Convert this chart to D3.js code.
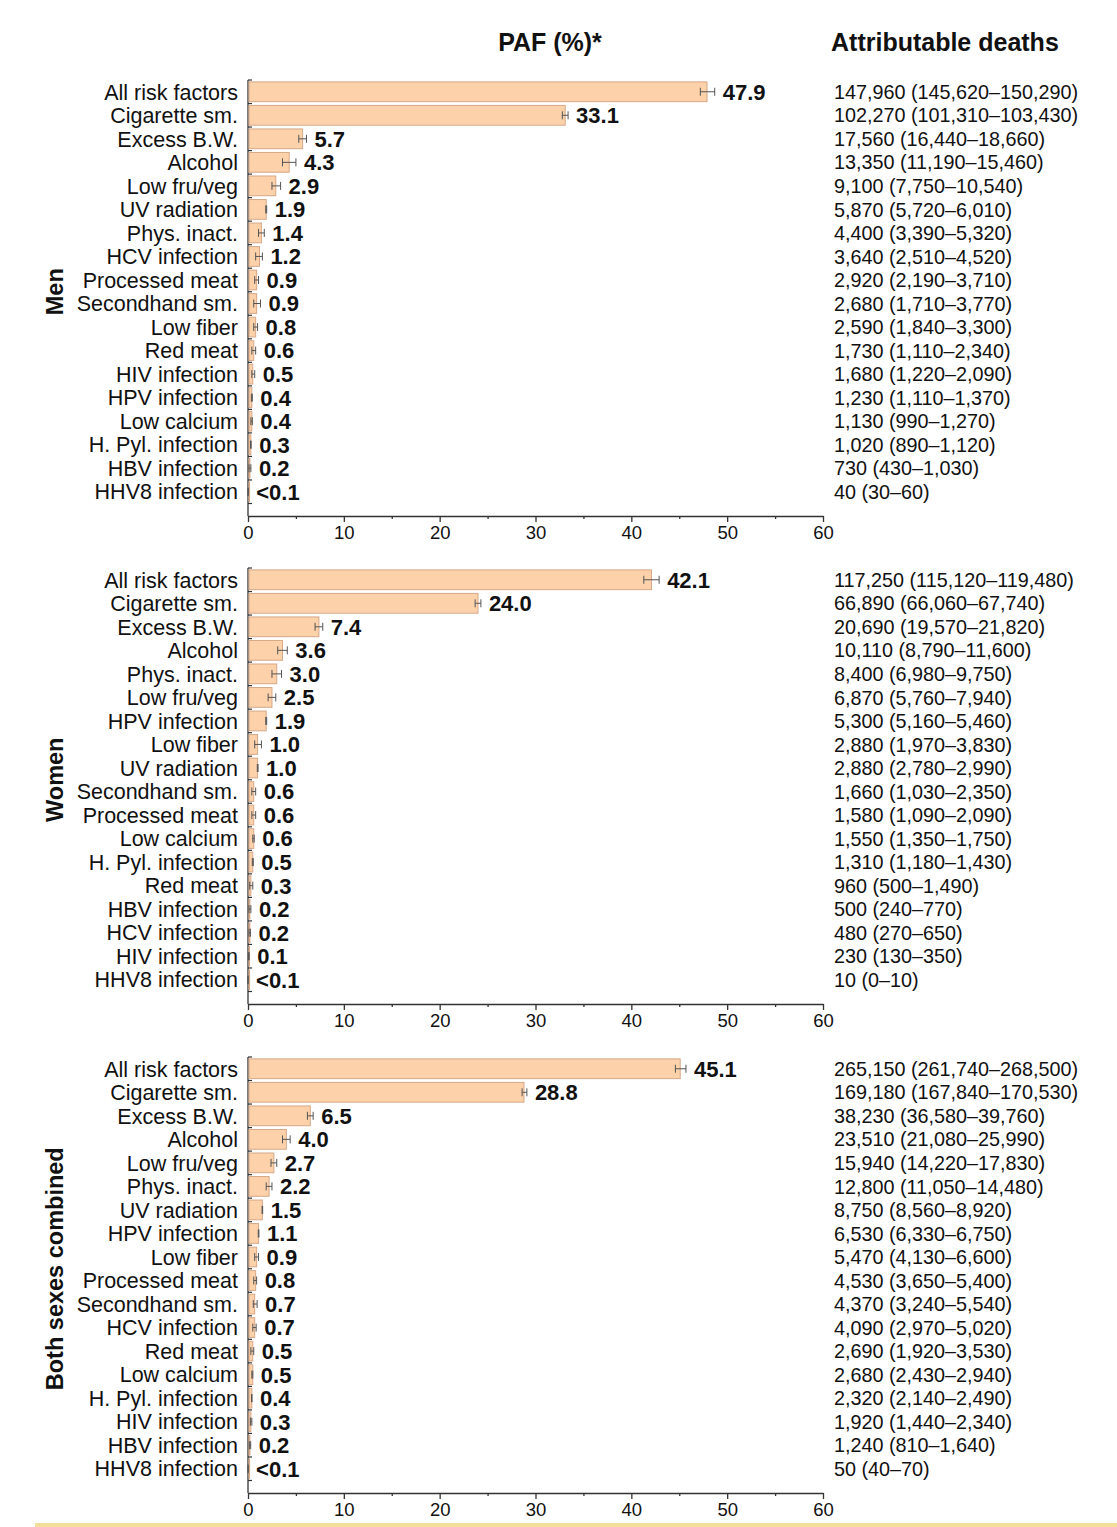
<!DOCTYPE html>
<meta charset="utf-8">
<body style="margin:0;background:#fff">
<script src="https://d3js.org/d3.v7.min.js" charset="utf-8"></script>
<style type="text/css">
  text { font-family: Arial, "Liberation Sans", sans-serif; fill: #111; }
  .cat { font-size: 21.5px; }
  .val { font-size: 22px; font-weight: bold; }
  .deaths { font-size: 19.8px; }
  .head { font-size: 25px; font-weight: bold; }
  .side { font-size: 23.5px; font-weight: bold; }
  .axis text { font-size: 18.5px; font-family: Arial, "Liberation Sans", sans-serif; fill: #111; }
  .axis path, .axis line { stroke: #333; stroke-width: 1.3px; }
</style>
<script>
var width = 1117;
var height = 1527;

// ---- data ----
var menFactors = ["All risk factors", "Cigarette sm.", "Excess B.W.", "Alcohol", "Low fru/veg", "UV radiation",
  "Phys. inact.", "HCV infection", "Processed meat", "Secondhand sm.", "Low fiber", "Red meat",
  "HIV infection", "HPV infection", "Low calcium", "H. Pyl. infection", "HBV infection", "HHV8 infection"];
var menPaf = [47.9, 33.1, 5.7, 4.3, 2.9, 1.9, 1.4, 1.2, 0.9, 0.9, 0.8, 0.6, 0.5, 0.4, 0.4, 0.3, 0.2, 0.01];
var menLo  = [47.2, 32.8, 5.3, 3.6, 2.5, 1.85, 1.1, 0.8, 0.7, 0.6, 0.6, 0.4, 0.4, 0.35, 0.3, 0.26, 0.1, 0.01];
var menHi  = [48.7, 33.4, 6.1, 5.0, 3.4, 1.95, 1.7, 1.5, 1.1, 1.3, 1.0, 0.8, 0.7, 0.45, 0.45, 0.33, 0.3, 0.02];
var menDeaths = ["147,960 (145,620–150,290)", "102,270 (101,310–103,430)", "17,560 (16,440–18,660)",
  "13,350 (11,190–15,460)", "9,100 (7,750–10,540)", "5,870 (5,720–6,010)", "4,400 (3,390–5,320)",
  "3,640 (2,510–4,520)", "2,920 (2,190–3,710)", "2,680 (1,710–3,770)", "2,590 (1,840–3,300)",
  "1,730 (1,110–2,340)", "1,680 (1,220–2,090)", "1,230 (1,110–1,370)", "1,130 (990–1,270)",
  "1,020 (890–1,120)", "730 (430–1,030)", "40 (30–60)"];

var womenFactors = ["All risk factors", "Cigarette sm.", "Excess B.W.", "Alcohol", "Phys. inact.", "Low fru/veg",
  "HPV infection", "Low fiber", "UV radiation", "Secondhand sm.", "Processed meat", "Low calcium",
  "H. Pyl. infection", "Red meat", "HBV infection", "HCV infection", "HIV infection", "HHV8 infection"];
var womenPaf = [42.1, 24.0, 7.4, 3.6, 3.0, 2.5, 1.9, 1.0, 1.0, 0.6, 0.6, 0.6, 0.5, 0.3, 0.2, 0.2, 0.1, 0.004];
var womenLo  = [41.3, 23.7, 7.0, 3.1, 2.5, 2.1, 1.85, 0.7, 0.97, 0.4, 0.4, 0.5, 0.45, 0.18, 0.1, 0.1, 0.05, 0];
var womenHi  = [42.9, 24.3, 7.8, 4.1, 3.5, 2.9, 1.95, 1.4, 1.05, 0.8, 0.8, 0.65, 0.55, 0.5, 0.3, 0.25, 0.12, 0.004];
var womenDeaths = ["117,250 (115,120–119,480)", "66,890 (66,060–67,740)", "20,690 (19,570–21,820)",
  "10,110 (8,790–11,600)", "8,400 (6,980–9,750)", "6,870 (5,760–7,940)", "5,300 (5,160–5,460)",
  "2,880 (1,970–3,830)", "2,880 (2,780–2,990)", "1,660 (1,030–2,350)", "1,580 (1,090–2,090)",
  "1,550 (1,350–1,750)", "1,310 (1,180–1,430)", "960 (500–1,490)", "500 (240–770)",
  "480 (270–650)", "230 (130–350)", "10 (0–10)"];

var bothFactors = ["All risk factors", "Cigarette sm.", "Excess B.W.", "Alcohol", "Low fru/veg", "Phys. inact.",
  "UV radiation", "HPV infection", "Low fiber", "Processed meat", "Secondhand sm.", "HCV infection",
  "Red meat", "Low calcium", "H. Pyl. infection", "HIV infection", "HBV infection", "HHV8 infection"];
var bothPaf = [45.1, 28.8, 6.5, 4.0, 2.7, 2.2, 1.5, 1.1, 0.9, 0.8, 0.7, 0.7, 0.5, 0.5, 0.4, 0.3, 0.2, 0.01];
var bothLo  = [44.6, 28.6, 6.2, 3.6, 2.4, 1.9, 1.47, 1.07, 0.7, 0.6, 0.55, 0.5, 0.3, 0.4, 0.37, 0.25, 0.14, 0.007];
var bothHi  = [45.7, 29.1, 6.8, 4.4, 3.0, 2.5, 1.53, 1.14, 1.1, 0.9, 0.95, 0.85, 0.6, 0.5, 0.42, 0.4, 0.28, 0.012];
var bothDeaths = ["265,150 (261,740–268,500)", "169,180 (167,840–170,530)", "38,230 (36,580–39,760)",
  "23,510 (21,080–25,990)", "15,940 (14,220–17,830)", "12,800 (11,050–14,480)", "8,750 (8,560–8,920)",
  "6,530 (6,330–6,750)", "5,470 (4,130–6,600)", "4,530 (3,650–5,400)", "4,370 (3,240–5,540)",
  "4,090 (2,970–5,020)", "2,690 (1,920–3,530)", "2,680 (2,430–2,940)", "2,320 (2,140–2,490)",
  "1,920 (1,440–2,340)", "1,240 (810–1,640)", "50 (40–70)"];

var xTicks = [0, 10, 20, 30, 40, 50, 60];
var xMinorTicks = [5, 15, 25, 35, 45, 55];

var panels = [
  { name: "Men", factors: menFactors, paf: menPaf, lo: menLo, hi: menHi, deaths: menDeaths },
  { name: "Women", factors: womenFactors, paf: womenPaf, lo: womenLo, hi: womenHi, deaths: womenDeaths },
  { name: "Both sexes combined", factors: bothFactors, paf: bothPaf, lo: bothLo, hi: bothHi, deaths: bothDeaths }
];

// ---- layout ----
var left = 248, right = 823;
var panelTops = [80, 568, 1057];
var bandH = 423.5;
var axisGap = 12.5;
var deathsX = 834;

var svg = d3.select("body").append("svg")
  .attr("width", width)
  .attr("height", height);

var x = d3.scaleLinear().domain([0, 60]).range([left, right]);

svg.append("text").attr("class", "head")
  .attr("x", 550).attr("y", 51).attr("text-anchor", "middle").text("PAF (%)*");
svg.append("text").attr("class", "head")
  .attr("x", 831).attr("y", 51).text("Attributable deaths");

panels.forEach(function(p, pi) {
  var top = panelTops[pi];
  var rows = p.factors.map(function(f, i) {
    return { factor: f, paf: p.paf[i], lo: p.lo[i], hi: p.hi[i], deaths: p.deaths[i] };
  });

  var y = d3.scaleBand()
    .domain(p.factors)
    .range([top, top + bandH])
    .paddingInner(0.16)
    .paddingOuter(0.08);

  var g = svg.append("g");
  var axisY = top + bandH + axisGap;

  // y axis line with small inward ticks at row boundaries
  g.append("line")
    .attr("x1", left).attr("x2", left)
    .attr("y1", top).attr("y2", axisY)
    .attr("stroke", "#333").attr("stroke-width", 1.3);
  var step = y.step();
  var bounds = d3.range(p.factors.length + 1).map(function(i) { return top + i * step; });
  g.selectAll(".ytick").data(bounds).enter().append("line")
    .attr("x1", left).attr("x2", left + 4)
    .attr("y1", function(d) { return d; }).attr("y2", function(d) { return d; })
    .attr("stroke", "#333").attr("stroke-width", 1.2);

  // bars
  g.selectAll(".bar").data(rows).enter().append("rect")
    .attr("x", x(0) + 1)
    .attr("y", function(d) { return y(d.factor); })
    .attr("width", function(d) { return Math.max(0.6, x(d.paf) - x(0) - 1); })
    .attr("height", y.bandwidth())
    .attr("fill", "#fdd1aa")
    .attr("stroke", "#d6a888")
    .attr("stroke-width", 1);

  // error bars
  var eb = g.selectAll(".err").data(rows).enter().append("g")
    .attr("transform", function(d) { return "translate(0," + (y(d.factor) + y.bandwidth() / 2) + ")"; });
  eb.append("line")
    .attr("x1", function(d) { return x(d.lo); }).attr("x2", function(d) { return x(d.hi); })
    .attr("stroke", "#555").attr("stroke-width", 1);
  eb.selectAll(".cap").data(function(d) { return [d.lo, d.hi]; }).enter().append("line")
    .attr("x1", function(v) { return x(v); }).attr("x2", function(v) { return x(v); })
    .attr("y1", -4).attr("y2", 4)
    .attr("stroke", "#555").attr("stroke-width", 1);

  // value labels
  g.selectAll(".val").data(rows).enter().append("text")
    .attr("class", "val")
    .attr("x", function(d) { return Math.max(x(d.paf), x(d.hi)) + 8; })
    .attr("y", function(d) { return y(d.factor) + y.bandwidth() / 2; })
    .attr("dy", "0.36em")
    .text(function(d) { return d.paf < 0.1 ? "<0.1" : d3.format(".1f")(d.paf); });

  // category labels
  g.selectAll(".cat").data(rows).enter().append("text")
    .attr("class", "cat")
    .attr("x", left - 10)
    .attr("y", function(d) { return y(d.factor) + y.bandwidth() / 2; })
    .attr("dy", "0.36em")
    .attr("text-anchor", "end")
    .text(function(d) { return d.factor; });

  // attributable deaths
  g.selectAll(".deaths").data(rows).enter().append("text")
    .attr("class", "deaths")
    .attr("x", deathsX)
    .attr("y", function(d) { return y(d.factor) + y.bandwidth() / 2; })
    .attr("dy", "0.36em")
    .text(function(d) { return d.deaths; });

  // x axis
  g.append("g")
    .attr("class", "axis")
    .attr("transform", "translate(0," + axisY + ")")
    .call(d3.axisBottom(x).tickValues(xTicks).tickSize(6).tickPadding(4).tickSizeOuter(0));
  g.append("g")
    .attr("class", "axis")
    .attr("transform", "translate(0," + axisY + ")")
    .call(d3.axisBottom(x).tickValues(xMinorTicks).tickSize(3).tickFormat("").tickSizeOuter(0))
    .select(".domain").remove();

  // side label
  svg.append("text").attr("class", "side")
    .attr("transform", "translate(63," + (top + bandH / 2) + ") rotate(-90)")
    .attr("text-anchor", "middle")
    .text(p.name);
});

// cut-off caption strip at the bottom
svg.append("rect")
  .attr("x", 35).attr("y", 1523).attr("width", width - 35).attr("height", 4)
  .attr("fill", "#f3df9a");
</script>
</body>
</html>
